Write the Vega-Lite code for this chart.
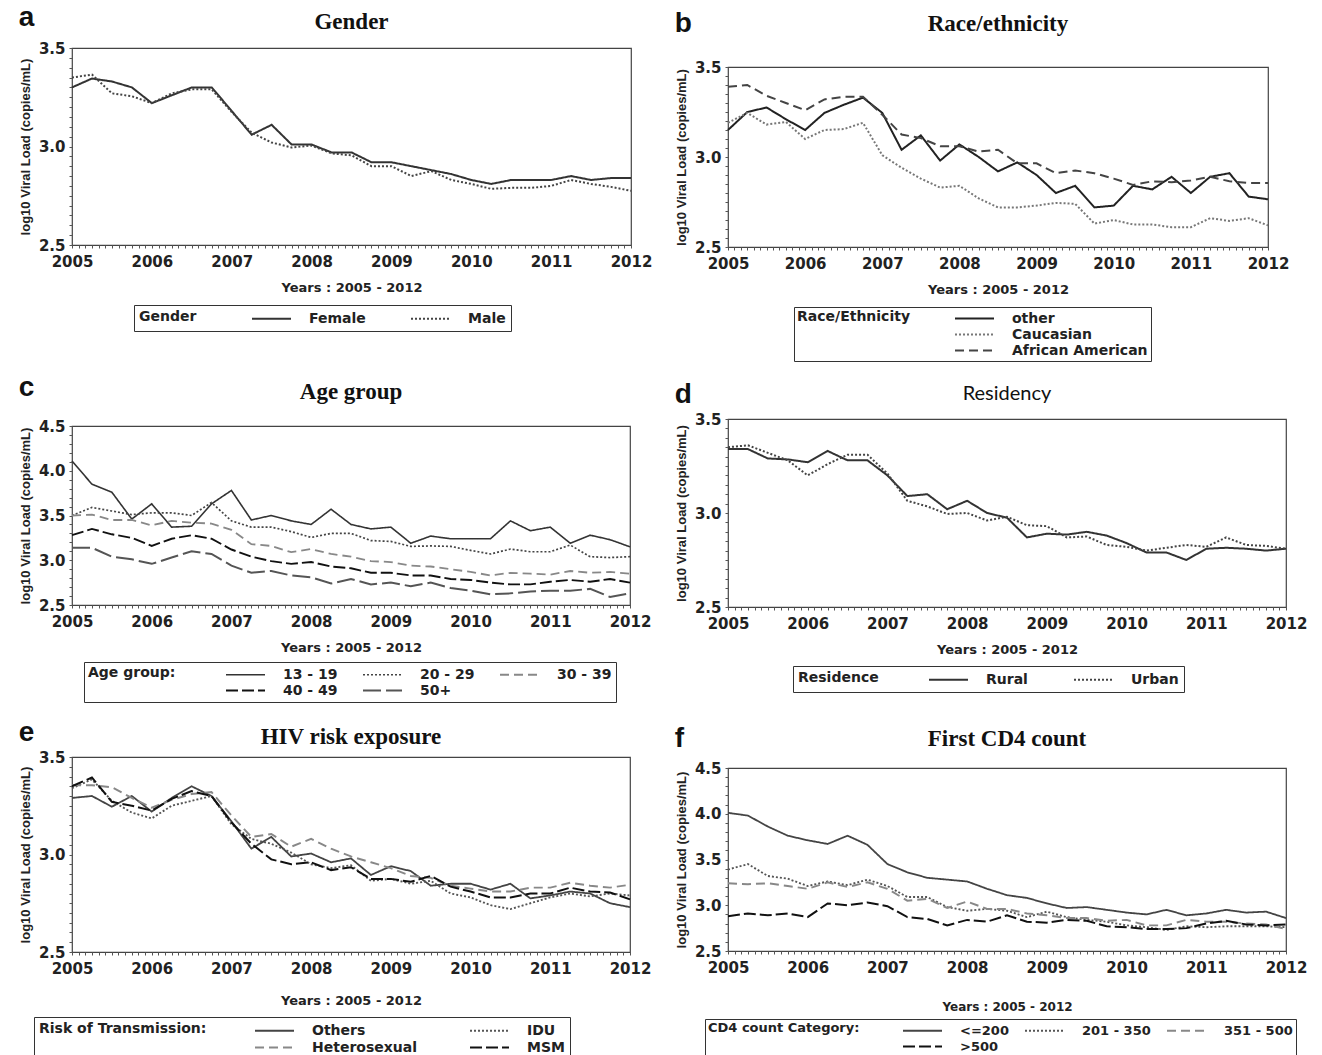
{
  "$schema": "https://vega.github.io/schema/vega-lite/v6.json",
  "background": "white",
  "padding": {"left": 18, "top": -4, "right": 4, "bottom": 0},
  "datasets": {
    "gender": [
      {"t":2005.00,"Female":3.30,"Male":3.35},{"t":2005.25,"Female":3.345,"Male":3.365},{"t":2005.50,"Female":3.33,"Male":3.27},{"t":2005.75,"Female":3.30,"Male":3.255},
      {"t":2006.00,"Female":3.22,"Male":3.22},{"t":2006.25,"Female":3.26,"Male":3.27},{"t":2006.50,"Female":3.30,"Male":3.29},{"t":2006.75,"Female":3.30,"Male":3.29},
      {"t":2007.00,"Female":3.18,"Male":3.175},{"t":2007.25,"Female":3.06,"Male":3.07},{"t":2007.50,"Female":3.11,"Male":3.02},{"t":2007.75,"Female":3.01,"Male":2.995},
      {"t":2008.00,"Female":3.01,"Male":3.005},{"t":2008.25,"Female":2.97,"Male":2.965},{"t":2008.50,"Female":2.97,"Male":2.955},{"t":2008.75,"Female":2.92,"Male":2.90},
      {"t":2009.00,"Female":2.92,"Male":2.90},{"t":2009.25,"Female":2.90,"Male":2.85},{"t":2009.50,"Female":2.88,"Male":2.875},{"t":2009.75,"Female":2.86,"Male":2.83},
      {"t":2010.00,"Female":2.83,"Male":2.81},{"t":2010.25,"Female":2.81,"Male":2.785},{"t":2010.50,"Female":2.83,"Male":2.79},{"t":2010.75,"Female":2.83,"Male":2.79},
      {"t":2011.00,"Female":2.83,"Male":2.80},{"t":2011.25,"Female":2.85,"Male":2.83},{"t":2011.50,"Female":2.83,"Male":2.81},{"t":2011.75,"Female":2.84,"Male":2.795},
      {"t":2012.00,"Female":2.84,"Male":2.775}
    ],
    "race": [
      {"t":2005.00,"other":3.15,"Caucasian":3.19,"African American":3.39},{"t":2005.25,"other":3.25,"Caucasian":3.245,"African American":3.40},
      {"t":2005.50,"other":3.275,"Caucasian":3.18,"African American":3.34},{"t":2005.75,"other":3.21,"Caucasian":3.195,"African American":3.30},
      {"t":2006.00,"other":3.15,"Caucasian":3.10,"African American":3.26},{"t":2006.25,"other":3.245,"Caucasian":3.15,"African American":3.32},
      {"t":2006.50,"other":3.29,"Caucasian":3.155,"African American":3.335},{"t":2006.75,"other":3.33,"Caucasian":3.19,"African American":3.335},
      {"t":2007.00,"other":3.245,"Caucasian":3.01,"African American":3.235},{"t":2007.25,"other":3.04,"Caucasian":2.94,"African American":3.125},
      {"t":2007.50,"other":3.12,"Caucasian":2.88,"African American":3.105},{"t":2007.75,"other":2.98,"Caucasian":2.83,"African American":3.06},
      {"t":2008.00,"other":3.07,"Caucasian":2.84,"African American":3.06},{"t":2008.25,"other":3.00,"Caucasian":2.77,"African American":3.03},
      {"t":2008.50,"other":2.92,"Caucasian":2.72,"African American":3.04},{"t":2008.75,"other":2.97,"Caucasian":2.72,"African American":2.965},
      {"t":2009.00,"other":2.90,"Caucasian":2.73,"African American":2.965},{"t":2009.25,"other":2.80,"Caucasian":2.745,"African American":2.91},
      {"t":2009.50,"other":2.84,"Caucasian":2.74,"African American":2.925},{"t":2009.75,"other":2.72,"Caucasian":2.63,"African American":2.91},
      {"t":2010.00,"other":2.73,"Caucasian":2.65,"African American":2.88},{"t":2010.25,"other":2.84,"Caucasian":2.625,"African American":2.845},
      {"t":2010.50,"other":2.82,"Caucasian":2.625,"African American":2.865},{"t":2010.75,"other":2.89,"Caucasian":2.61,"African American":2.86},
      {"t":2011.00,"other":2.80,"Caucasian":2.61,"African American":2.87},{"t":2011.25,"other":2.89,"Caucasian":2.66,"African American":2.89},
      {"t":2011.50,"other":2.91,"Caucasian":2.645,"African American":2.865},{"t":2011.75,"other":2.78,"Caucasian":2.66,"African American":2.855},
      {"t":2012.00,"other":2.765,"Caucasian":2.62,"African American":2.855}
    ],
    "age": [
      {"t":2005.00,"13 - 19":4.11,"20 - 29":3.50,"30 - 39":3.50,"40 - 49":3.28,"50+":3.14},
      {"t":2005.25,"13 - 19":3.85,"20 - 29":3.59,"30 - 39":3.51,"40 - 49":3.35,"50+":3.14},
      {"t":2005.50,"13 - 19":3.76,"20 - 29":3.55,"30 - 39":3.45,"40 - 49":3.29,"50+":3.04},
      {"t":2005.75,"13 - 19":3.46,"20 - 29":3.51,"30 - 39":3.45,"40 - 49":3.25,"50+":3.01},
      {"t":2006.00,"13 - 19":3.63,"20 - 29":3.53,"30 - 39":3.39,"40 - 49":3.16,"50+":2.96},
      {"t":2006.25,"13 - 19":3.37,"20 - 29":3.53,"30 - 39":3.44,"40 - 49":3.24,"50+":3.03},
      {"t":2006.50,"13 - 19":3.38,"20 - 29":3.50,"30 - 39":3.42,"40 - 49":3.28,"50+":3.10},
      {"t":2006.75,"13 - 19":3.63,"20 - 29":3.645,"30 - 39":3.41,"40 - 49":3.24,"50+":3.07},
      {"t":2007.00,"13 - 19":3.78,"20 - 29":3.44,"30 - 39":3.34,"40 - 49":3.12,"50+":2.94},
      {"t":2007.25,"13 - 19":3.45,"20 - 29":3.37,"30 - 39":3.18,"40 - 49":3.04,"50+":2.86},
      {"t":2007.50,"13 - 19":3.50,"20 - 29":3.37,"30 - 39":3.16,"40 - 49":2.99,"50+":2.88},
      {"t":2007.75,"13 - 19":3.44,"20 - 29":3.32,"30 - 39":3.09,"40 - 49":2.96,"50+":2.83},
      {"t":2008.00,"13 - 19":3.40,"20 - 29":3.255,"30 - 39":3.125,"40 - 49":2.98,"50+":2.81},
      {"t":2008.25,"13 - 19":3.57,"20 - 29":3.30,"30 - 39":3.07,"40 - 49":2.93,"50+":2.74},
      {"t":2008.50,"13 - 19":3.40,"20 - 29":3.30,"30 - 39":3.04,"40 - 49":2.91,"50+":2.79},
      {"t":2008.75,"13 - 19":3.35,"20 - 29":3.22,"30 - 39":2.99,"40 - 49":2.86,"50+":2.73},
      {"t":2009.00,"13 - 19":3.37,"20 - 29":3.21,"30 - 39":2.98,"40 - 49":2.86,"50+":2.75},
      {"t":2009.25,"13 - 19":3.19,"20 - 29":3.155,"30 - 39":2.94,"40 - 49":2.83,"50+":2.71},
      {"t":2009.50,"13 - 19":3.27,"20 - 29":3.16,"30 - 39":2.93,"40 - 49":2.83,"50+":2.75},
      {"t":2009.75,"13 - 19":3.24,"20 - 29":3.155,"30 - 39":2.90,"40 - 49":2.79,"50+":2.69},
      {"t":2010.00,"13 - 19":3.24,"20 - 29":3.11,"30 - 39":2.87,"40 - 49":2.78,"50+":2.66},
      {"t":2010.25,"13 - 19":3.24,"20 - 29":3.07,"30 - 39":2.83,"40 - 49":2.75,"50+":2.62},
      {"t":2010.50,"13 - 19":3.44,"20 - 29":3.125,"30 - 39":2.86,"40 - 49":2.73,"50+":2.63},
      {"t":2010.75,"13 - 19":3.33,"20 - 29":3.095,"30 - 39":2.85,"40 - 49":2.73,"50+":2.65},
      {"t":2011.00,"13 - 19":3.37,"20 - 29":3.095,"30 - 39":2.84,"40 - 49":2.76,"50+":2.66},
      {"t":2011.25,"13 - 19":3.19,"20 - 29":3.17,"30 - 39":2.88,"40 - 49":2.78,"50+":2.66},
      {"t":2011.50,"13 - 19":3.28,"20 - 29":3.04,"30 - 39":2.86,"40 - 49":2.76,"50+":2.68},
      {"t":2011.75,"13 - 19":3.23,"20 - 29":3.03,"30 - 39":2.87,"40 - 49":2.79,"50+":2.59},
      {"t":2012.00,"13 - 19":3.15,"20 - 29":3.04,"30 - 39":2.85,"40 - 49":2.75,"50+":2.63}
    ],
    "residency": [
      {"t":2005.00,"Rural":3.34,"Urban":3.35},{"t":2005.25,"Rural":3.34,"Urban":3.36},{"t":2005.50,"Rural":3.29,"Urban":3.32},{"t":2005.75,"Rural":3.285,"Urban":3.28},
      {"t":2006.00,"Rural":3.27,"Urban":3.20},{"t":2006.25,"Rural":3.33,"Urban":3.26},{"t":2006.50,"Rural":3.28,"Urban":3.31},{"t":2006.75,"Rural":3.28,"Urban":3.31},
      {"t":2007.00,"Rural":3.20,"Urban":3.21},{"t":2007.25,"Rural":3.09,"Urban":3.065},{"t":2007.50,"Rural":3.10,"Urban":3.035},{"t":2007.75,"Rural":3.02,"Urban":2.995},
      {"t":2008.00,"Rural":3.065,"Urban":3.00},{"t":2008.25,"Rural":3.00,"Urban":2.96},{"t":2008.50,"Rural":2.975,"Urban":2.98},{"t":2008.75,"Rural":2.87,"Urban":2.935},
      {"t":2009.00,"Rural":2.89,"Urban":2.93},{"t":2009.25,"Rural":2.885,"Urban":2.87},{"t":2009.50,"Rural":2.90,"Urban":2.875},{"t":2009.75,"Rural":2.88,"Urban":2.83},
      {"t":2010.00,"Rural":2.84,"Urban":2.82},{"t":2010.25,"Rural":2.79,"Urban":2.80},{"t":2010.50,"Rural":2.79,"Urban":2.815},{"t":2010.75,"Rural":2.75,"Urban":2.83},
      {"t":2011.00,"Rural":2.81,"Urban":2.82},{"t":2011.25,"Rural":2.815,"Urban":2.87},{"t":2011.50,"Rural":2.81,"Urban":2.83},{"t":2011.75,"Rural":2.80,"Urban":2.825},
      {"t":2012.00,"Rural":2.81,"Urban":2.81}
    ],
    "risk": [
      {"t":2005.00,"Others":3.29,"IDU":3.34,"Heterosexual":3.355,"MSM":3.35},
      {"t":2005.25,"Others":3.30,"IDU":3.385,"Heterosexual":3.355,"MSM":3.395},
      {"t":2005.50,"Others":3.245,"IDU":3.275,"Heterosexual":3.345,"MSM":3.27},
      {"t":2005.75,"Others":3.30,"IDU":3.215,"Heterosexual":3.29,"MSM":3.25},
      {"t":2006.00,"Others":3.22,"IDU":3.185,"Heterosexual":3.24,"MSM":3.225},
      {"t":2006.25,"Others":3.29,"IDU":3.25,"Heterosexual":3.28,"MSM":3.285},
      {"t":2006.50,"Others":3.35,"IDU":3.275,"Heterosexual":3.31,"MSM":3.325},
      {"t":2006.75,"Others":3.30,"IDU":3.30,"Heterosexual":3.32,"MSM":3.30},
      {"t":2007.00,"Others":3.17,"IDU":3.155,"Heterosexual":3.20,"MSM":3.165},
      {"t":2007.25,"Others":3.03,"IDU":3.08,"Heterosexual":3.09,"MSM":3.055},
      {"t":2007.50,"Others":3.09,"IDU":3.055,"Heterosexual":3.105,"MSM":2.975},
      {"t":2007.75,"Others":2.99,"IDU":3.01,"Heterosexual":3.04,"MSM":2.95},
      {"t":2008.00,"Others":3.005,"IDU":2.95,"Heterosexual":3.08,"MSM":2.96},
      {"t":2008.25,"Others":2.96,"IDU":2.93,"Heterosexual":3.03,"MSM":2.92},
      {"t":2008.50,"Others":2.98,"IDU":2.945,"Heterosexual":2.99,"MSM":2.935},
      {"t":2008.75,"Others":2.895,"IDU":2.865,"Heterosexual":2.96,"MSM":2.875},
      {"t":2009.00,"Others":2.94,"IDU":2.875,"Heterosexual":2.93,"MSM":2.875},
      {"t":2009.25,"Others":2.915,"IDU":2.85,"Heterosexual":2.89,"MSM":2.86},
      {"t":2009.50,"Others":2.84,"IDU":2.865,"Heterosexual":2.88,"MSM":2.89},
      {"t":2009.75,"Others":2.85,"IDU":2.80,"Heterosexual":2.84,"MSM":2.835},
      {"t":2010.00,"Others":2.85,"IDU":2.78,"Heterosexual":2.825,"MSM":2.81},
      {"t":2010.25,"Others":2.82,"IDU":2.74,"Heterosexual":2.81,"MSM":2.78},
      {"t":2010.50,"Others":2.85,"IDU":2.72,"Heterosexual":2.81,"MSM":2.78},
      {"t":2010.75,"Others":2.775,"IDU":2.75,"Heterosexual":2.83,"MSM":2.80},
      {"t":2011.00,"Others":2.79,"IDU":2.78,"Heterosexual":2.83,"MSM":2.80},
      {"t":2011.25,"Others":2.81,"IDU":2.80,"Heterosexual":2.855,"MSM":2.83},
      {"t":2011.50,"Others":2.80,"IDU":2.785,"Heterosexual":2.84,"MSM":2.81},
      {"t":2011.75,"Others":2.75,"IDU":2.80,"Heterosexual":2.83,"MSM":2.805},
      {"t":2012.00,"Others":2.73,"IDU":2.79,"Heterosexual":2.845,"MSM":2.77}
    ],
    "cd4": [
      {"t":2005.00,"<=200":4.01,"201 - 350":3.39,"351 - 500":3.24,">500":2.88},
      {"t":2005.25,"<=200":3.98,"201 - 350":3.45,"351 - 500":3.23,">500":2.91},
      {"t":2005.50,"<=200":3.86,"201 - 350":3.32,"351 - 500":3.24,">500":2.89},
      {"t":2005.75,"<=200":3.76,"201 - 350":3.29,"351 - 500":3.21,">500":2.91},
      {"t":2006.00,"<=200":3.71,"201 - 350":3.21,"351 - 500":3.18,">500":2.87},
      {"t":2006.25,"<=200":3.67,"201 - 350":3.26,"351 - 500":3.25,">500":3.02},
      {"t":2006.50,"<=200":3.76,"201 - 350":3.22,"351 - 500":3.20,">500":3.00},
      {"t":2006.75,"<=200":3.66,"201 - 350":3.28,"351 - 500":3.25,">500":3.03},
      {"t":2007.00,"<=200":3.45,"201 - 350":3.21,"351 - 500":3.18,">500":2.99},
      {"t":2007.25,"<=200":3.36,"201 - 350":3.09,"351 - 500":3.05,">500":2.87},
      {"t":2007.50,"<=200":3.30,"201 - 350":3.09,"351 - 500":3.07,">500":2.85},
      {"t":2007.75,"<=200":3.28,"201 - 350":2.98,"351 - 500":2.97,">500":2.78},
      {"t":2008.00,"<=200":3.26,"201 - 350":2.94,"351 - 500":3.04,">500":2.84},
      {"t":2008.25,"<=200":3.18,"201 - 350":2.96,"351 - 500":2.96,">500":2.82},
      {"t":2008.50,"<=200":3.11,"201 - 350":2.94,"351 - 500":2.96,">500":2.89},
      {"t":2008.75,"<=200":3.08,"201 - 350":2.87,"351 - 500":2.91,">500":2.82},
      {"t":2009.00,"<=200":3.02,"201 - 350":2.93,"351 - 500":2.89,">500":2.81},
      {"t":2009.25,"<=200":2.97,"201 - 350":2.87,"351 - 500":2.86,">500":2.84},
      {"t":2009.50,"<=200":2.98,"201 - 350":2.84,"351 - 500":2.86,">500":2.83},
      {"t":2009.75,"<=200":2.95,"201 - 350":2.82,"351 - 500":2.83,">500":2.77},
      {"t":2010.00,"<=200":2.92,"201 - 350":2.78,"351 - 500":2.84,">500":2.76},
      {"t":2010.25,"<=200":2.90,"201 - 350":2.76,"351 - 500":2.78,">500":2.74},
      {"t":2010.50,"<=200":2.95,"201 - 350":2.73,"351 - 500":2.78,">500":2.74},
      {"t":2010.75,"<=200":2.89,"201 - 350":2.77,"351 - 500":2.84,">500":2.75},
      {"t":2011.00,"<=200":2.91,"201 - 350":2.76,"351 - 500":2.82,">500":2.80},
      {"t":2011.25,"<=200":2.95,"201 - 350":2.77,"351 - 500":2.82,">500":2.83},
      {"t":2011.50,"<=200":2.92,"201 - 350":2.77,"351 - 500":2.80,">500":2.79},
      {"t":2011.75,"<=200":2.93,"201 - 350":2.77,"351 - 500":2.79,">500":2.78},
      {"t":2012.00,"<=200":2.86,"201 - 350":2.76,"351 - 500":2.74,">500":2.79}
    ]
  },
  "resolve": {"scale": {"color": "independent", "strokeDash": "independent", "strokeWidth": "independent"}, "legend": {"color": "independent", "strokeDash": "independent", "strokeWidth": "independent"}},
  "spacing": 21,
  "hconcat": [
    {"spacing": 0,
     "resolve": {"scale": {"color": "independent", "strokeDash": "independent", "strokeWidth": "independent"}, "legend": {"color": "independent", "strokeDash": "independent", "strokeWidth": "independent"}},
     "vconcat": [
      {"width": 10, "height": 8, "data": {"values": []}, "mark": "point", "view": {"stroke": null}},
      {"spacing": 41,
       "resolve": {"scale": {"color": "independent", "strokeDash": "independent", "strokeWidth": "independent"}, "legend": {"color": "independent", "strokeDash": "independent", "strokeWidth": "independent"}},
       "vconcat": [
        {"title": {"text": "a", "anchor": "start", "font": "Liberation Sans", "fontSize": 28, "fontWeight": "bold", "offset": 0, "dy": 22, "color": "#111"},
         "resolve": {"scale": {"color": "independent", "strokeDash": "independent"}, "legend": {"color": "independent", "strokeDash": "independent"}},
         "vconcat": [{
          "title": {"text": "Gender", "font": "Liberation Serif", "fontSize": 23, "fontWeight": "bold", "offset": 7, "frame": "group", "anchor": "middle", "color": "#111"},
          "width": 559, "height": 197,
          "data": {"name": "gender"},
          "transform": [{"fold": ["Female", "Male"], "as": ["s", "v"]}],
          "mark": {"type": "line", "strokeWidth": 2},
          "encoding": {
            "x": {"field": "t", "type": "quantitative", "scale": {"domain": [2005, 2012], "nice": false, "zero": false}, "axis": {"values": [2005,2005.0833,2005.1667,2005.25,2005.3333,2005.4167,2005.5,2005.5833,2005.6667,2005.75,2005.8333,2005.9167,2006,2006.0833,2006.1667,2006.25,2006.3333,2006.4167,2006.5,2006.5833,2006.6667,2006.75,2006.8333,2006.9167,2007,2007.0833,2007.1667,2007.25,2007.3333,2007.4167,2007.5,2007.5833,2007.6667,2007.75,2007.8333,2007.9167,2008,2008.0833,2008.1667,2008.25,2008.3333,2008.4167,2008.5,2008.5833,2008.6667,2008.75,2008.8333,2008.9167,2009,2009.0833,2009.1667,2009.25,2009.3333,2009.4167,2009.5,2009.5833,2009.6667,2009.75,2009.8333,2009.9167,2010,2010.0833,2010.1667,2010.25,2010.3333,2010.4167,2010.5,2010.5833,2010.6667,2010.75,2010.8333,2010.9167,2011,2011.0833,2011.1667,2011.25,2011.3333,2011.4167,2011.5,2011.5833,2011.6667,2011.75,2011.8333,2011.9167,2012], "labelExpr": "datum.value % 1 === 0 ? format(datum.value, 'd') : ''", "title": "Years :  2005 - 2012"}},
            "y": {"field": "v", "type": "quantitative", "scale": {"domain": [2.5, 3.5], "nice": false, "zero": false}, "axis": {"values": [2.5,2.55,2.6,2.65,2.7,2.75,2.8,2.85,2.9,2.95,3,3.05,3.1,3.15,3.2,3.25,3.3,3.35,3.4,3.45,3.5], "labelExpr": "abs(datum.value * 2 - round(datum.value * 2)) < 0.001 ? format(datum.value, '.1f') : ''", "title": "log10 Viral Load (copies/mL)"}},
            "color": {"field": "s", "type": "nominal", "scale": {"domain": ["Female", "Male"], "range": ["#333333", "#444444"]}, "legend": {"title": "Gender", "legendX": 62, "legendY": 257, "titlePadding": 66, "columnPadding": 41}},
            "strokeDash": {"field": "s", "type": "nominal", "scale": {"domain": ["Female", "Male"], "range": [[1, 0], [2, 2]]}, "legend": {"title": "Gender", "legendX": 62, "legendY": 257, "titlePadding": 66, "columnPadding": 41}}
          }
        }]},
        {"spacing": 15,
         "resolve": {"scale": {"color": "independent", "strokeDash": "independent", "strokeWidth": "independent"}, "legend": {"color": "independent", "strokeDash": "independent", "strokeWidth": "independent"}},
         "vconcat": [
          {"title": {"text": "c", "anchor": "start", "font": "Liberation Sans", "fontSize": 28, "fontWeight": "bold", "offset": 0, "dy": 22, "color": "#111"},
           "resolve": {"scale": {"color": "independent", "strokeDash": "independent", "strokeWidth": "independent"}, "legend": {"color": "independent", "strokeDash": "independent", "strokeWidth": "independent"}},
           "vconcat": [{
            "title": {"text": "Age group", "font": "Liberation Serif", "fontSize": 23, "fontWeight": "bold", "offset": 15, "frame": "group", "anchor": "middle", "color": "#111"},
            "width": 558, "height": 179,
            "data": {"name": "age"},
            "transform": [{"fold": ["13 - 19", "20 - 29", "30 - 39", "40 - 49", "50+"], "as": ["s", "v"]}],
            "mark": {"type": "line"},
            "encoding": {
              "x": {"field": "t", "type": "quantitative", "scale": {"domain": [2005, 2012], "nice": false, "zero": false}, "axis": {"values": [2005,2005.0833,2005.1667,2005.25,2005.3333,2005.4167,2005.5,2005.5833,2005.6667,2005.75,2005.8333,2005.9167,2006,2006.0833,2006.1667,2006.25,2006.3333,2006.4167,2006.5,2006.5833,2006.6667,2006.75,2006.8333,2006.9167,2007,2007.0833,2007.1667,2007.25,2007.3333,2007.4167,2007.5,2007.5833,2007.6667,2007.75,2007.8333,2007.9167,2008,2008.0833,2008.1667,2008.25,2008.3333,2008.4167,2008.5,2008.5833,2008.6667,2008.75,2008.8333,2008.9167,2009,2009.0833,2009.1667,2009.25,2009.3333,2009.4167,2009.5,2009.5833,2009.6667,2009.75,2009.8333,2009.9167,2010,2010.0833,2010.1667,2010.25,2010.3333,2010.4167,2010.5,2010.5833,2010.6667,2010.75,2010.8333,2010.9167,2011,2011.0833,2011.1667,2011.25,2011.3333,2011.4167,2011.5,2011.5833,2011.6667,2011.75,2011.8333,2011.9167,2012], "labelExpr": "datum.value % 1 === 0 ? format(datum.value, 'd') : ''", "title": "Years : 2005 - 2012"}},
              "y": {"field": "v", "type": "quantitative", "scale": {"domain": [2.5, 4.5], "nice": false, "zero": false}, "axis": {"values": [2.5,2.6,2.7,2.8,2.9,3,3.1,3.2,3.3,3.4,3.5,3.6,3.7,3.8,3.9,4,4.1,4.2,4.3,4.4,4.5], "labelExpr": "abs(datum.value * 2 - round(datum.value * 2)) < 0.001 ? format(datum.value, '.1f') : ''", "title": "log10 Viral Load (copies/mL)"}},
              "color": {"field": "s", "type": "nominal", "scale": {"domain": ["13 - 19", "20 - 29", "30 - 39", "40 - 49", "50+"], "range": ["#333333", "#444444", "#888888", "#111111", "#555555"]}, "legend": {"title": "Age group:", "columns": 3, "legendX": 12, "legendY": 236, "titlePadding": 61, "columnPadding": 21, "padding": 4, "rowPadding": 0}},
              "strokeDash": {"field": "s", "type": "nominal", "scale": {"domain": ["13 - 19", "20 - 29", "30 - 39", "40 - 49", "50+"], "range": [[1, 0], [2, 2], [9, 5], [12, 4], [18, 5]]}, "legend": {"title": "Age group:", "columns": 3, "legendX": 12, "legendY": 236, "titlePadding": 61, "columnPadding": 21, "padding": 4, "rowPadding": 0}},
              "strokeWidth": {"field": "s", "type": "nominal", "scale": {"domain": ["13 - 19", "20 - 29", "30 - 39", "40 - 49", "50+"], "range": [1.6, 2, 2, 2.6, 1.8]}, "legend": {"title": "Age group:", "columns": 3, "legendX": 12, "legendY": 236, "titlePadding": 61, "columnPadding": 21, "padding": 4, "rowPadding": 0}}
            }
          }]},
          {"title": {"text": "e", "anchor": "start", "font": "Liberation Sans", "fontSize": 28, "fontWeight": "bold", "offset": 0, "dy": 22, "color": "#111"},
           "resolve": {"scale": {"color": "independent", "strokeDash": "independent", "strokeWidth": "independent"}, "legend": {"color": "independent", "strokeDash": "independent", "strokeWidth": "independent"}},
           "vconcat": [{
            "title": {"text": "HIV risk exposure", "font": "Liberation Serif", "fontSize": 23, "fontWeight": "bold", "offset": 1, "frame": "group", "anchor": "middle", "color": "#111"},
            "width": 558, "height": 195,
            "data": {"name": "risk"},
            "transform": [{"fold": ["Others", "IDU", "Heterosexual", "MSM"], "as": ["s", "v"]}],
            "mark": {"type": "line"},
            "encoding": {
              "x": {"field": "t", "type": "quantitative", "scale": {"domain": [2005, 2012], "nice": false, "zero": false}, "axis": {"values": [2005,2005.0833,2005.1667,2005.25,2005.3333,2005.4167,2005.5,2005.5833,2005.6667,2005.75,2005.8333,2005.9167,2006,2006.0833,2006.1667,2006.25,2006.3333,2006.4167,2006.5,2006.5833,2006.6667,2006.75,2006.8333,2006.9167,2007,2007.0833,2007.1667,2007.25,2007.3333,2007.4167,2007.5,2007.5833,2007.6667,2007.75,2007.8333,2007.9167,2008,2008.0833,2008.1667,2008.25,2008.3333,2008.4167,2008.5,2008.5833,2008.6667,2008.75,2008.8333,2008.9167,2009,2009.0833,2009.1667,2009.25,2009.3333,2009.4167,2009.5,2009.5833,2009.6667,2009.75,2009.8333,2009.9167,2010,2010.0833,2010.1667,2010.25,2010.3333,2010.4167,2010.5,2010.5833,2010.6667,2010.75,2010.8333,2010.9167,2011,2011.0833,2011.1667,2011.25,2011.3333,2011.4167,2011.5,2011.5833,2011.6667,2011.75,2011.8333,2011.9167,2012], "labelExpr": "datum.value % 1 === 0 ? format(datum.value, 'd') : ''", "title": "Years :  2005 - 2012", "titlePadding": 18}},
              "y": {"field": "v", "type": "quantitative", "scale": {"domain": [2.5, 3.5], "nice": false, "zero": false}, "axis": {"values": [2.5,2.55,2.6,2.65,2.7,2.75,2.8,2.85,2.9,2.95,3,3.05,3.1,3.15,3.2,3.25,3.3,3.35,3.4,3.45,3.5], "labelExpr": "abs(datum.value * 2 - round(datum.value * 2)) < 0.001 ? format(datum.value, '.1f') : ''", "title": "log10 Viral Load (copies/mL)"}},
              "color": {"field": "s", "type": "nominal", "scale": {"domain": ["Others", "IDU", "Heterosexual", "MSM"], "range": ["#444444", "#555555", "#888888", "#111111"]}, "legend": {"title": "Risk of Transmission:", "columns": 2, "legendX": -38, "legendY": 260, "titlePadding": 59, "columnPadding": 49}},
              "strokeDash": {"field": "s", "type": "nominal", "scale": {"domain": ["Others", "IDU", "Heterosexual", "MSM"], "range": [[1, 0], [2, 2], [9, 5], [12, 4]]}, "legend": {"title": "Risk of Transmission:", "columns": 2, "legendX": -38, "legendY": 260, "titlePadding": 59, "columnPadding": 49}},
              "strokeWidth": {"field": "s", "type": "nominal", "scale": {"domain": ["Others", "IDU", "Heterosexual", "MSM"], "range": [1.8, 2, 2, 2.4]}, "legend": {"title": "Risk of Transmission:", "columns": 2, "legendX": -38, "legendY": 260, "titlePadding": 59, "columnPadding": 49}}
            }
          }]}
        ]}
      ]}
    ]},
    {"spacing": 0,
     "resolve": {"scale": {"color": "independent", "strokeDash": "independent", "strokeWidth": "independent"}, "legend": {"color": "independent", "strokeDash": "independent", "strokeWidth": "independent"}},
     "vconcat": [
      {"width": 10, "height": 14, "data": {"values": []}, "mark": "point", "view": {"stroke": null}},
      {"spacing": 18,
       "resolve": {"scale": {"color": "independent", "strokeDash": "independent", "strokeWidth": "independent"}, "legend": {"color": "independent", "strokeDash": "independent", "strokeWidth": "independent"}},
       "vconcat": [
        {"title": {"text": "b", "anchor": "start", "font": "Liberation Sans", "fontSize": 28, "fontWeight": "bold", "offset": 0, "dy": 26, "color": "#111"},
         "resolve": {"scale": {"color": "independent", "strokeDash": "independent"}, "legend": {"color": "independent", "strokeDash": "independent"}},
         "vconcat": [{
          "title": {"text": "Race/ethnicity", "font": "Liberation Serif", "fontSize": 23, "fontWeight": "bold", "offset": 24, "frame": "group", "anchor": "middle", "color": "#111"},
          "width": 540, "height": 180,
          "data": {"name": "race"},
          "transform": [{"fold": ["other", "Caucasian", "African American"], "as": ["s", "v"]}],
          "mark": {"type": "line", "strokeWidth": 2},
          "encoding": {
            "x": {"field": "t", "type": "quantitative", "scale": {"domain": [2005, 2012], "nice": false, "zero": false}, "axis": {"values": [2005,2005.0833,2005.1667,2005.25,2005.3333,2005.4167,2005.5,2005.5833,2005.6667,2005.75,2005.8333,2005.9167,2006,2006.0833,2006.1667,2006.25,2006.3333,2006.4167,2006.5,2006.5833,2006.6667,2006.75,2006.8333,2006.9167,2007,2007.0833,2007.1667,2007.25,2007.3333,2007.4167,2007.5,2007.5833,2007.6667,2007.75,2007.8333,2007.9167,2008,2008.0833,2008.1667,2008.25,2008.3333,2008.4167,2008.5,2008.5833,2008.6667,2008.75,2008.8333,2008.9167,2009,2009.0833,2009.1667,2009.25,2009.3333,2009.4167,2009.5,2009.5833,2009.6667,2009.75,2009.8333,2009.9167,2010,2010.0833,2010.1667,2010.25,2010.3333,2010.4167,2010.5,2010.5833,2010.6667,2010.75,2010.8333,2010.9167,2011,2011.0833,2011.1667,2011.25,2011.3333,2011.4167,2011.5,2011.5833,2011.6667,2011.75,2011.8333,2011.9167,2012], "labelExpr": "datum.value % 1 === 0 ? format(datum.value, 'd') : ''", "title": "Years :  2005 - 2012"}},
            "y": {"field": "v", "type": "quantitative", "scale": {"domain": [2.5, 3.5], "nice": false, "zero": false}, "axis": {"values": [2.5,2.55,2.6,2.65,2.7,2.75,2.8,2.85,2.9,2.95,3,3.05,3.1,3.15,3.2,3.25,3.3,3.35,3.4,3.45,3.5], "labelExpr": "abs(datum.value * 2 - round(datum.value * 2)) < 0.001 ? format(datum.value, '.1f') : ''", "title": "log10 Viral Load (copies/mL)"}},
            "color": {"field": "s", "type": "nominal", "scale": {"domain": ["other", "Caucasian", "African American"], "range": ["#222222", "#777777", "#444444"]}, "legend": {"title": "Race/Ethnicity", "direction": "vertical", "legendX": 66, "legendY": 240, "titlePadding": 55, "padding": 3, "rowPadding": 0}},
            "strokeDash": {"field": "s", "type": "nominal", "scale": {"domain": ["other", "Caucasian", "African American"], "range": [[1, 0], [2, 2], [9, 5]]}, "legend": {"title": "Race/Ethnicity", "direction": "vertical", "legendX": 66, "legendY": 240, "titlePadding": 55, "padding": 3, "rowPadding": 0}}
          }
        }]},
        {"spacing": 31,
         "resolve": {"scale": {"color": "independent", "strokeDash": "independent", "strokeWidth": "independent"}, "legend": {"color": "independent", "strokeDash": "independent", "strokeWidth": "independent"}},
         "vconcat": [
          {"title": {"text": "d", "anchor": "start", "font": "Liberation Sans", "fontSize": 28, "fontWeight": "bold", "offset": 0, "dy": 26, "color": "#111"},
           "resolve": {"scale": {"color": "independent", "strokeDash": "independent"}, "legend": {"color": "independent", "strokeDash": "independent"}},
           "vconcat": [{
            "title": {"text": "Residency", "font": "Lato", "fontSize": 20, "fontWeight": "normal", "offset": 8, "frame": "group", "anchor": "middle", "color": "#111"},
            "width": 558, "height": 188,
            "data": {"name": "residency"},
            "transform": [{"fold": ["Rural", "Urban"], "as": ["s", "v"]}],
            "mark": {"type": "line", "strokeWidth": 2},
            "encoding": {
              "x": {"field": "t", "type": "quantitative", "scale": {"domain": [2005, 2012], "nice": false, "zero": false}, "axis": {"values": [2005,2005.0833,2005.1667,2005.25,2005.3333,2005.4167,2005.5,2005.5833,2005.6667,2005.75,2005.8333,2005.9167,2006,2006.0833,2006.1667,2006.25,2006.3333,2006.4167,2006.5,2006.5833,2006.6667,2006.75,2006.8333,2006.9167,2007,2007.0833,2007.1667,2007.25,2007.3333,2007.4167,2007.5,2007.5833,2007.6667,2007.75,2007.8333,2007.9167,2008,2008.0833,2008.1667,2008.25,2008.3333,2008.4167,2008.5,2008.5833,2008.6667,2008.75,2008.8333,2008.9167,2009,2009.0833,2009.1667,2009.25,2009.3333,2009.4167,2009.5,2009.5833,2009.6667,2009.75,2009.8333,2009.9167,2010,2010.0833,2010.1667,2010.25,2010.3333,2010.4167,2010.5,2010.5833,2010.6667,2010.75,2010.8333,2010.9167,2011,2011.0833,2011.1667,2011.25,2011.3333,2011.4167,2011.5,2011.5833,2011.6667,2011.75,2011.8333,2011.9167,2012], "labelExpr": "datum.value % 1 === 0 ? format(datum.value, 'd') : ''", "title": "Years :  2005 - 2012"}},
              "y": {"field": "v", "type": "quantitative", "scale": {"domain": [2.5, 3.5], "nice": false, "zero": false}, "axis": {"values": [2.5,2.55,2.6,2.65,2.7,2.75,2.8,2.85,2.9,2.95,3,3.05,3.1,3.15,3.2,3.25,3.3,3.35,3.4,3.45,3.5], "labelExpr": "abs(datum.value * 2 - round(datum.value * 2)) < 0.001 ? format(datum.value, '.1f') : ''", "title": "log10 Viral Load (copies/mL)"}},
              "color": {"field": "s", "type": "nominal", "scale": {"domain": ["Rural", "Urban"], "range": ["#333333", "#444444"]}, "legend": {"title": "Residence", "legendX": 65, "legendY": 247, "titlePadding": 61, "columnPadding": 42}},
              "strokeDash": {"field": "s", "type": "nominal", "scale": {"domain": ["Rural", "Urban"], "range": [[1, 0], [2, 2]]}, "legend": {"title": "Residence", "legendX": 65, "legendY": 247, "titlePadding": 61, "columnPadding": 42}}
            }
          }]},
          {"title": {"text": "f", "anchor": "start", "font": "Liberation Sans", "fontSize": 28, "fontWeight": "bold", "offset": 0, "dy": 26, "color": "#111"},
           "resolve": {"scale": {"color": "independent", "strokeDash": "independent", "strokeWidth": "independent"}, "legend": {"color": "independent", "strokeDash": "independent", "strokeWidth": "independent"}},
           "vconcat": [{
            "title": {"text": "First CD4 count", "font": "Liberation Serif", "fontSize": 23, "fontWeight": "bold", "offset": 10, "frame": "group", "anchor": "middle", "color": "#111"},
            "width": 558, "height": 183,
            "data": {"name": "cd4"},
            "transform": [{"fold": ["<=200", "201 - 350", "351 - 500", ">500"], "as": ["s", "v"]}],
            "mark": {"type": "line"},
            "encoding": {
              "x": {"field": "t", "type": "quantitative", "scale": {"domain": [2005, 2012], "nice": false, "zero": false}, "axis": {"values": [2005,2005.0833,2005.1667,2005.25,2005.3333,2005.4167,2005.5,2005.5833,2005.6667,2005.75,2005.8333,2005.9167,2006,2006.0833,2006.1667,2006.25,2006.3333,2006.4167,2006.5,2006.5833,2006.6667,2006.75,2006.8333,2006.9167,2007,2007.0833,2007.1667,2007.25,2007.3333,2007.4167,2007.5,2007.5833,2007.6667,2007.75,2007.8333,2007.9167,2008,2008.0833,2008.1667,2008.25,2008.3333,2008.4167,2008.5,2008.5833,2008.6667,2008.75,2008.8333,2008.9167,2009,2009.0833,2009.1667,2009.25,2009.3333,2009.4167,2009.5,2009.5833,2009.6667,2009.75,2009.8333,2009.9167,2010,2010.0833,2010.1667,2010.25,2010.3333,2010.4167,2010.5,2010.5833,2010.6667,2010.75,2010.8333,2010.9167,2011,2011.0833,2011.1667,2011.25,2011.3333,2011.4167,2011.5,2011.5833,2011.6667,2011.75,2011.8333,2011.9167,2012], "labelExpr": "datum.value % 1 === 0 ? format(datum.value, 'd') : ''", "title": "Years :  2005 - 2012", "titlePadding": 26, "titleFontSize": 12}},
              "y": {"field": "v", "type": "quantitative", "scale": {"domain": [2.5, 4.5], "nice": false, "zero": false}, "axis": {"values": [2.5,2.6,2.7,2.8,2.9,3,3.1,3.2,3.3,3.4,3.5,3.6,3.7,3.8,3.9,4,4.1,4.2,4.3,4.4,4.5], "labelExpr": "abs(datum.value * 2 - round(datum.value * 2)) < 0.001 ? format(datum.value, '.1f') : ''", "title": "log10 Viral Load (copies/mL)"}},
              "color": {"field": "s", "type": "nominal", "scale": {"domain": ["<=200", "201 - 350", "351 - 500", ">500"], "range": ["#444444", "#555555", "#888888", "#111111"]}, "legend": {"title": "CD4 count Category:", "columns": 3, "legendX": -23, "legendY": 251, "titlePadding": 54, "columnPadding": 12, "labelFontSize": 13, "titleFontSize": 13, "padding": 3, "rowPadding": 0}},
              "strokeDash": {"field": "s", "type": "nominal", "scale": {"domain": ["<=200", "201 - 350", "351 - 500", ">500"], "range": [[1, 0], [2, 2], [9, 5], [12, 4]]}, "legend": {"title": "CD4 count Category:", "columns": 3, "legendX": -23, "legendY": 251, "titlePadding": 54, "columnPadding": 12, "labelFontSize": 13, "titleFontSize": 13, "padding": 3, "rowPadding": 0}},
              "strokeWidth": {"field": "s", "type": "nominal", "scale": {"domain": ["<=200", "201 - 350", "351 - 500", ">500"], "range": [1.8, 2, 2, 2.4]}, "legend": {"title": "CD4 count Category:", "columns": 3, "legendX": -23, "legendY": 251, "titlePadding": 54, "columnPadding": 12, "labelFontSize": 13, "titleFontSize": 13, "padding": 3, "rowPadding": 0}}
            }
          }]}
        ]}
      ]}
    ]}
  ],
  "config": {
    "view": {"stroke": "#444444", "strokeWidth": 1.2},
    "axis": {"grid": false, "domain": false, "tickColor": "#555555", "tickSize": 3, "labelOverlap": false, "labelFont": "DejaVu Sans", "labelFontWeight": "bold", "labelFontSize": 15, "labelColor": "#222222", "titleColor": "#222222"},
    "axisX": {"labelPadding": 6, "titleFont": "DejaVu Sans", "titleFontSize": 13, "titleFontWeight": "bold", "titlePadding": 12, "labelFlush": false},
    "axisY": {"labelPadding": 4, "titleFont": "Liberation Sans", "titleFontSize": 13, "titleFontWeight": "bold", "titlePadding": 6},
    "legend": {"orient": "none", "direction": "horizontal", "strokeColor": "#333333", "fillColor": "white", "padding": 5, "symbolType": "M-2.6,0H2.6", "symbolSize": 225, "symbolStrokeWidth": 2, "symbolFillColor": "transparent", "labelFont": "DejaVu Sans", "labelFontWeight": "bold", "labelFontSize": 14, "labelColor": "#222222", "titleFont": "DejaVu Sans", "titleFontWeight": "bold", "titleFontSize": 14, "titleColor": "#222222", "titleOrient": "left", "titleAnchor": "start", "labelOffset": 29, "columnPadding": 30, "rowPadding": 1, "labelLimit": 300}
  }
}
